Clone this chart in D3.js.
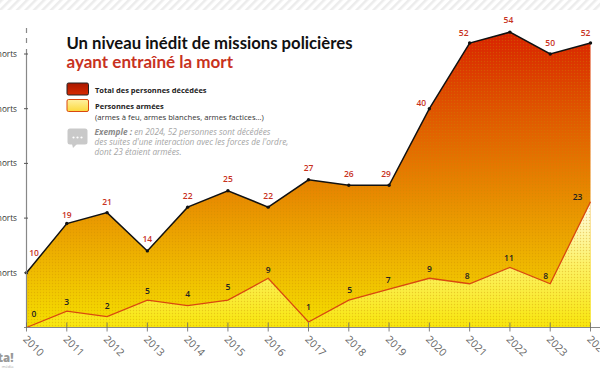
<!doctype html>
<html lang="fr">
<head>
<meta charset="utf-8">
<style>
	html, body { margin: 0; padding: 0; background: #fff; overflow: hidden; }
	text { font-family: "Open Sans", sans-serif; }
</style>
</head>
<body>
<script src="https://cdn.jsdelivr.net/npm/d3@7"></script>
<script>
var years = [2010,2011,2012,2013,2014,2015,2016,2017,2018,2019,2020,2021,2022,2023,2024];
var total = [10,19,21,14,22,25,22,27,26,26,40,52,54,50,52];
var totalLabels = [10,19,21,14,22,25,22,27,26,29,40,52,54,50,52];
var armed = [0,3,2,5,4,5,9,1,5,7,9,8,11,8,23];
var yTicks = [10,20,30,40,50];

var wd = 600, ht = 372;
var svg = d3.select("body").append("svg").attr("width", wd).attr("height", ht).style("display", "block");
var x = d3.scaleLinear().domain([2010, 2024]).range([26.5, 590.5]);
var y = d3.scaleLinear().domain([0, 50]).range([327.5, 54]);

var defs = svg.append("defs");

var hatch = defs.append("pattern").attr("id", "hatch").attr("width", 6).attr("height", 6)
	.attr("patternUnits", "userSpaceOnUse").attr("patternTransform", "rotate(45)");
hatch.append("rect").attr("width", 2.5).attr("height", 6).attr("fill", "#ececec");

var dots = defs.append("pattern").attr("id", "dots").attr("width", 3).attr("height", 3).attr("patternUnits", "userSpaceOnUse");
dots.append("circle").attr("cx", 1.5).attr("cy", 1.5).attr("r", 0.7).attr("fill", "#c98a00").attr("opacity", 0.35);

var gTotal = defs.append("linearGradient").attr("id", "gTotal").attr("gradientUnits", "userSpaceOnUse")
	.attr("x1", 0).attr("x2", 0).attr("y1", y(54)).attr("y2", y(0));
gTotal.append("stop").attr("offset", "0").attr("stop-color", "#d92200");
gTotal.append("stop").attr("offset", "0.5").attr("stop-color", "#e68000");
gTotal.append("stop").attr("offset", "1").attr("stop-color", "#f5e000");

var gArmed = defs.append("linearGradient").attr("id", "gArmed").attr("gradientUnits", "userSpaceOnUse")
	.attr("x1", 0).attr("x2", 0).attr("y1", y(23)).attr("y2", y(0));
gArmed.append("stop").attr("offset", "0").attr("stop-color", "#fffce8");
gArmed.append("stop").attr("offset", "0.5").attr("stop-color", "#fdf266");
gArmed.append("stop").attr("offset", "1").attr("stop-color", "#f8e60c");

var gKeyTotal = defs.append("linearGradient").attr("id", "gKeyTotal").attr("x1", 0).attr("x2", 0).attr("y1", 0).attr("y2", 1);
gKeyTotal.append("stop").attr("offset", "0").attr("stop-color", "#a81800");
gKeyTotal.append("stop").attr("offset", "1").attr("stop-color", "#d82a00");
var gKeyArmed = defs.append("linearGradient").attr("id", "gKeyArmed").attr("x1", 0).attr("x2", 0).attr("y1", 0).attr("y2", 1);
gKeyArmed.append("stop").attr("offset", "0").attr("stop-color", "#fff0a0");
gKeyArmed.append("stop").attr("offset", "1").attr("stop-color", "#fbd93c");

// bande du haut
svg.append("rect").attr("width", wd).attr("height", 10).attr("fill", "url(#hatch)");

// aires
var idx = d3.range(years.length);
var areaTotal = d3.area().x(function(i) {return x(years[i]);}).y0(y(0)).y1(function(i) {return y(total[i]);});
var areaArmed = d3.area().x(function(i) {return x(years[i]);}).y0(y(0)).y1(function(i) {return y(armed[i]);});
var lineTotal = d3.line().x(function(i) {return x(years[i]);}).y(function(i) {return y(total[i]);});
var lineArmed = d3.line().x(function(i) {return x(years[i]);}).y(function(i) {return y(armed[i]);});

svg.append("path").attr("d", areaTotal(idx)).attr("fill", "url(#gTotal)");
svg.append("path").attr("d", areaArmed(idx)).attr("fill", "url(#gArmed)");
svg.append("path").attr("d", areaTotal(idx)).attr("fill", "url(#dots)");
svg.append("path").attr("d", lineArmed(idx)).attr("fill", "none").attr("stroke", "#d9480f").attr("stroke-width", 1.3);
svg.append("path").attr("d", lineTotal(idx)).attr("fill", "none").attr("stroke", "#111").attr("stroke-width", 1.5);

svg.selectAll("circle.pt").data(idx).enter().append("circle").attr("class", "pt")
	.attr("cx", function(i) {return x(years[i]);})
	.attr("cy", function(i) {return y(total[i]);})
	.attr("r", 1.7).attr("fill", "#111");

// axes
var axisColor = "#888";
svg.append("line").attr("x1", 26.5).attr("x2", 26.5).attr("y1", y(0)).attr("y2", 49).attr("stroke", axisColor).attr("stroke-width", 1.2);
svg.append("line").attr("x1", 26.5).attr("x2", 26.5).attr("y1", 43).attr("y2", 28).attr("stroke", axisColor).attr("stroke-width", 1.2).attr("stroke-dasharray", "5 5");
svg.append("line").attr("x1", 24).attr("x2", 600).attr("y1", y(0)).attr("y2", y(0)).attr("stroke", axisColor).attr("stroke-width", 1.2);

var yAxisG = svg.append("g");
yAxisG.selectAll("line").data(yTicks).enter().append("line")
	.attr("x1", 24).attr("x2", 28)
	.attr("y1", function(d) {return y(d);}).attr("y2", function(d) {return y(d);})
	.attr("stroke", "#555").attr("stroke-width", 1);
yAxisG.selectAll("text").data(yTicks).enter().append("text")
	.attr("x", 17).attr("y", function(d) {return y(d);}).attr("dy", "0.35em")
	.attr("text-anchor", "end").attr("font-size", 8.2).attr("fill", "#333")
	.text(function(d) {return d + " morts";});

var xTicksG = svg.append("g");
xTicksG.selectAll("line").data(years).enter().append("line")
	.attr("x1", function(d) {return x(d);}).attr("x2", function(d) {return x(d);})
	.attr("y1", y(0) - 5).attr("y2", y(0) + 4)
	.attr("stroke", "#666").attr("stroke-width", 0.8);
var xLabelsG = svg.append("g");
xLabelsG.selectAll("g").data(years).enter().append("g")
	.attr("transform", function(d) {return "translate(" + (x(d) + 7) + ",346) rotate(45)";})
	.append("text")
	.attr("text-anchor", "middle").attr("dy", "0.35em")
	.attr("font-size", 10.5).attr("fill", "#666")
	.text(function(d) {return d;});

// valeurs
var totalDx = [7.5,0,0,0,0,0,0,0,0,-3,-8,-6,-1.5,0,-5];
var totalDy = [-17,-6,-8,-9,-8,-9,-8,-9,-8,-8,-3,-7,-9,-8,-7];
var armedDx = [7.5,0,0,0,0,0,0,0,1,-1,0,-2.5,-1,-4.5,-13];
var armedDy = [-11,-6,-8,-6,-9,-10,-5,-12,-7,-6,-6,-5,-6,-5,-2];
svg.selectAll("text.tot").data(idx).enter().append("text").attr("class", "tot")
	.attr("x", function(i) {return x(years[i]) + totalDx[i];})
	.attr("y", function(i) {return y(total[i]) + totalDy[i];})
	.attr("text-anchor", "middle").attr("font-size", 8.5).attr("font-weight", 600).attr("fill", "#c8321e")
	.text(function(i) {return totalLabels[i];});
svg.selectAll("text.arm").data(idx).enter().append("text").attr("class", "arm")
	.attr("x", function(i) {return x(years[i]) + armedDx[i];})
	.attr("y", function(i) {return y(armed[i]) + armedDy[i];})
	.attr("text-anchor", "middle").attr("font-size", 8.5).attr("font-weight", 600).attr("fill", "#222")
	.text(function(i) {return armed[i];});

// titre
svg.append("text").attr("x", 66.5).attr("y", 49).style("font-family", "Lato, sans-serif")
	.attr("textLength", 286).attr("lengthAdjust", "spacingAndGlyphs")
	.attr("font-size", 17.5).attr("font-weight", 700).attr("fill", "#111").text("Un niveau inédit de missions policières");
svg.append("text").attr("x", 66.5).attr("y", 68).style("font-family", "Lato, sans-serif")
	.attr("textLength", 166.5).attr("lengthAdjust", "spacingAndGlyphs")
	.attr("font-size", 17.5).attr("font-weight", 700).attr("fill", "#c8321e").text("ayant entraîné la mort");

// légende
svg.append("rect").attr("x", 67).attr("y", 83).attr("width", 21.5).attr("height", 12).attr("rx", 1.5)
	.attr("fill", "url(#gKeyTotal)").attr("stroke", "#222").attr("stroke-width", 1);
svg.append("rect").attr("x", 67).attr("y", 99.5).attr("width", 21.5).attr("height", 12).attr("rx", 1.5)
	.attr("fill", "url(#gKeyArmed)").attr("stroke", "#d9480f").attr("stroke-width", 1);
svg.append("text").attr("x", 95).attr("y", 92.5).attr("font-size", 7.5).attr("font-weight", 700).attr("fill", "#222").text("Total des personnes décédées");
svg.append("text").attr("x", 95).attr("y", 108.7).attr("font-size", 7.5).attr("font-weight", 700).attr("fill", "#222").text("Personnes armées");
svg.append("text").attr("x", 95).attr("y", 120).attr("font-size", 7.7).attr("fill", "#333").text("(armes à feu, armes blanches, armes factices...)");

// bulle
svg.append("rect").attr("x", 67.5).attr("y", 128.5).attr("width", 20).attr("height", 16).attr("rx", 2.5).attr("fill", "#c9c9c9");
svg.append("path").attr("d", d3.line()([[72, 144], [73, 148], [77, 144]])).attr("fill", "#c9c9c9");
svg.selectAll("circle.bub").data([-4, 0, 4]).enter().append("circle").attr("class", "bub")
	.attr("cx", function(d) {return 77.5 + d;}).attr("cy", 137.5).attr("r", 1.1).attr("fill", "#fff");

var note = svg.append("g").attr("font-size", 8.3).attr("font-style", "italic").attr("fill", "#a5a5a5");
var line1 = note.append("text").attr("x", 94.5).attr("y", 135);
line1.append("tspan").attr("font-weight", 700).attr("fill", "#8a8a8a").text("Exemple : ");
line1.append("tspan").text("en 2024, 52 personnes sont décédées");
note.append("text").attr("x", 94.5).attr("y", 145).text("des suites d'une interaction avec les forces de l'ordre,");
note.append("text").attr("x", 94.5).attr("y", 155).text("dont 23 étaient armées.");

// logo coupé
svg.append("text").attr("x", 13.5).attr("y", 362).attr("text-anchor", "end").attr("font-size", 11.5).attr("font-weight", 800).attr("fill", "#999").text("ta!");
svg.append("text").attr("x", 13.5).attr("y", 368).attr("text-anchor", "end").attr("font-size", 4).attr("fill", "#aaa").text("média");
</script>
</body>
</html>
